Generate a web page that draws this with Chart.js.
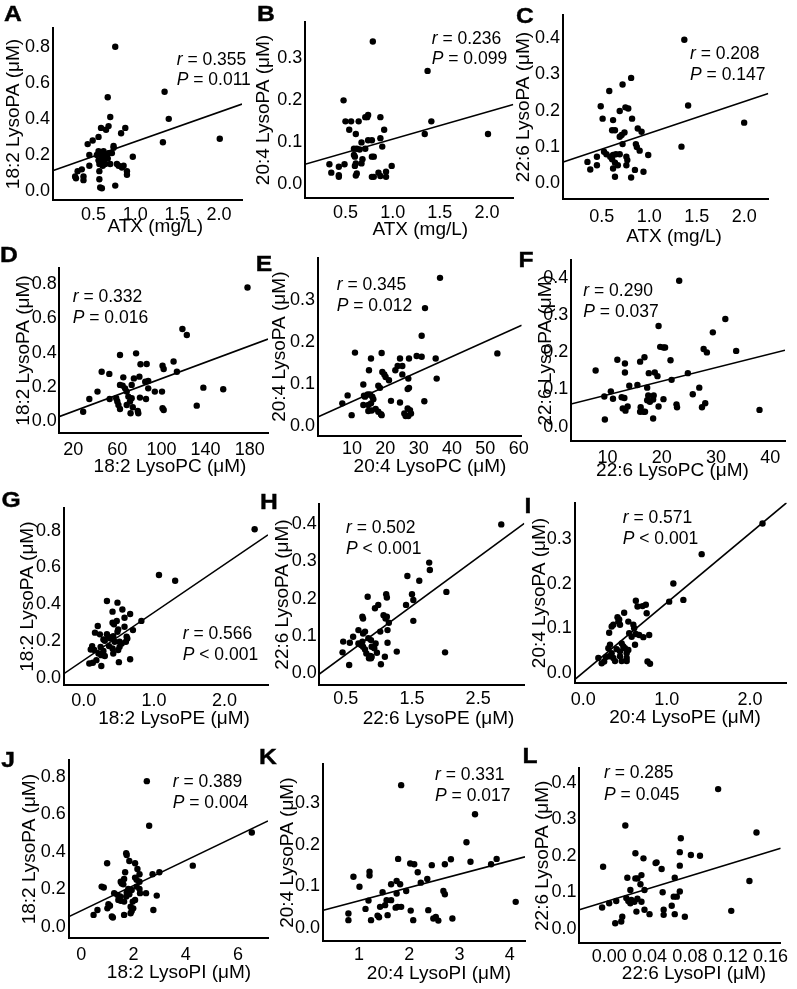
<!DOCTYPE html>
<html><head><meta charset="utf-8">
<script src="https://cdn.jsdelivr.net/npm/chart.js@4.4.1/dist/chart.umd.min.js"></script>
<style>
html,body{margin:0;padding:0;background:#fff;}
#wrap{position:relative;width:797px;height:989px;overflow:hidden;background:#fff;font-family:"Liberation Sans",Arial,sans-serif;color:#000;}
canvas{position:absolute;}
.lab{position:absolute;white-space:nowrap;line-height:1;}
.letter{font-weight:bold;font-size:22px;transform:translateX(-50%) scaleX(1.12);-webkit-text-stroke:0.4px #000;}
.stat{font-size:17.5px;}
.xt{font-size:19px;transform:translateX(-50%);}
</style></head><body><div id="wrap"></div>
<script>
// ---------- DATA ----------
const ptsA = [[0.76,0.80],[1.35,0.55],[1.40,0.40],[1.33,0.27],[2.01,0.29],[0.67,0.52],[0.70,0.41],[0.59,0.35],[0.68,0.36],[0.65,0.34],[0.88,0.35],[0.83,0.32],[0.56,0.30],[0.49,0.28],[0.43,0.26],[0.74,0.25],[0.74,0.24],[0.56,0.22],[0.62,0.22],[0.45,0.20],[0.54,0.20],[0.58,0.21],[0.60,0.19],[0.64,0.20],[0.68,0.21],[0.72,0.21],[0.56,0.17],[0.62,0.17],[0.67,0.18],[0.97,0.19],[0.57,0.15],[0.64,0.15],[0.61,0.14],[0.70,0.15],[0.78,0.15],[0.86,0.14],[0.80,0.14],[0.84,0.13],[0.90,0.11],[0.90,0.09],[0.45,0.14],[0.36,0.12],[0.31,0.11],[0.38,0.08],[0.28,0.08],[0.57,0.11],[0.57,0.065],[0.58,0.02],[0.60,0.015],[0.76,0.03],[0.38,0.06],[0.29,0.07]];
const ptsB = [[0.79,0.34],[1.37,0.27],[0.48,0.20],[0.50,0.15],[0.56,0.15],[0.64,0.15],[0.71,0.16],[0.73,0.16],[0.74,0.165],[0.87,0.16],[0.54,0.13],[0.61,0.12],[0.91,0.13],[1.41,0.15],[1.34,0.12],[2.01,0.12],[0.74,0.105],[0.78,0.105],[0.87,0.11],[0.67,0.10],[0.89,0.09],[0.59,0.085],[0.62,0.085],[0.65,0.083],[0.71,0.085],[0.78,0.066],[0.80,0.066],[0.59,0.07],[0.60,0.066],[0.68,0.06],[0.61,0.05],[0.60,0.044],[0.67,0.05],[0.99,0.044],[0.33,0.048],[0.49,0.048],[0.43,0.042],[0.35,0.028],[0.43,0.022],[0.43,0.018],[0.62,0.026],[0.61,0.021],[0.85,0.028],[0.87,0.02],[0.78,0.018],[0.80,0.018],[0.93,0.03],[0.93,0.018]];
const ptsC = [[1.37,0.395],[1.41,0.214],[1.34,0.101],[2.00,0.167],[0.81,0.29],[0.72,0.272],[0.58,0.254],[0.49,0.212],[0.51,0.178],[0.62,0.174],[0.69,0.199],[0.75,0.209],[0.78,0.206],[0.82,0.178],[0.61,0.146],[0.64,0.146],[0.69,0.128],[0.71,0.133],[0.74,0.14],[0.72,0.108],[0.88,0.151],[0.92,0.142],[0.86,0.108],[0.87,0.10],[0.90,0.09],[0.99,0.078],[0.525,0.087],[0.55,0.08],[0.59,0.073],[0.62,0.078],[0.65,0.08],[0.69,0.08],[0.61,0.066],[0.64,0.057],[0.67,0.05],[0.62,0.041],[0.76,0.073],[0.77,0.064],[0.76,0.05],[0.45,0.073],[0.45,0.05],[0.35,0.059],[0.38,0.038],[0.64,0.018],[0.81,0.016],[0.85,0.037],[0.94,0.032]];
const ptsD = [[178,0.78],[119,0.538],[123,0.503],[62.4,0.386],[77,0.396],[45.8,0.289],[52.7,0.276],[65.4,0.256],[75,0.25],[81,0.332],[86.6,0.334],[101,0.324],[102,0.305],[111,0.348],[114,0.289],[80,0.26],[62.4,0.212],[64.8,0.208],[73,0.212],[85.3,0.23],[88,0.235],[88,0.192],[94,0.173],[100.5,0.173],[138,0.196],[156,0.187],[132,0.091],[42,0.173],[34.6,0.13],[29,0.056],[53,0.13],[59,0.134],[68.5,0.173],[70,0.144],[71.5,0.115],[73,0.134],[80.5,0.138],[86,0.13],[60,0.115],[61,0.095],[62.4,0.072],[68.5,0.095],[74,0.082],[72,0.047],[78.5,0.06],[79,0.047],[101,0.076],[102,0.066],[67,0.192]];
const ptsE = [[36.4,0.352],[31.9,0.28],[30.9,0.214],[10.9,0.174],[18.9,0.173],[15.7,0.16],[15.1,0.132],[19.1,0.128],[19.7,0.122],[20.1,0.116],[21.1,0.108],[23,0.132],[23.7,0.142],[24.4,0.16],[25.1,0.142],[25.1,0.122],[27.1,0.16],[29.4,0.166],[30.9,0.164],[35.1,0.16],[35.4,0.112],[26.9,0.112],[27.1,0.09],[26.7,0.087],[17.9,0.095],[18.4,0.09],[13.4,0.098],[13.6,0.071],[13.9,0.069],[14.7,0.074],[15.4,0.074],[16.1,0.069],[16.4,0.063],[15.7,0.053],[14.9,0.049],[13.4,0.049],[14.9,0.035],[15.9,0.036],[17.1,0.04],[17.9,0.033],[18.7,0.027],[18.9,0.025],[21.7,0.059],[24.4,0.055],[31.7,0.058],[8.7,0.072],[7.1,0.053],[9.9,0.025],[25.7,0.029],[26.1,0.023],[26.7,0.041],[27.4,0.037],[27.7,0.029],[26.9,0.023],[53.6,0.172]];
const ptsF = [[23.2,0.393],[31.7,0.29],[29.4,0.254],[19.4,0.271],[33.7,0.204],[27.7,0.209],[28.3,0.2],[19.7,0.215],[20.3,0.213],[20.6,0.213],[16.8,0.187],[16.0,0.175],[11.8,0.18],[13.2,0.17],[13.2,0.146],[7.8,0.151],[17.6,0.144],[18.7,0.146],[19.2,0.136],[21.6,0.179],[21.8,0.126],[24.8,0.144],[14.0,0.11],[15.5,0.112],[17.3,0.105],[9.4,0.081],[10.6,0.095],[11.0,0.075],[12.6,0.079],[13.1,0.077],[12.8,0.049],[13.7,0.054],[13.3,0.043],[17.5,0.084],[17.3,0.071],[17.8,0.067],[18.4,0.073],[18.5,0.084],[16.1,0.052],[16.0,0.04],[16.6,0.04],[16.9,0.04],[19.4,0.054],[20.3,0.074],[22.7,0.06],[22.8,0.052],[25.7,0.087],[26.9,0.105],[27.4,0.052],[28.0,0.063],[9.5,0.019],[18.4,0.022],[38.0,0.045]];
const ptsG = [[2.43,0.807],[1.07,0.559],[1.30,0.528],[0.33,0.418],[0.48,0.409],[0.41,0.36],[0.55,0.372],[0.58,0.327],[0.66,0.347],[0.82,0.31],[0.41,0.30],[0.43,0.292],[0.47,0.31],[0.20,0.282],[0.49,0.264],[0.58,0.278],[0.70,0.26],[0.16,0.246],[0.23,0.237],[0.33,0.238],[0.35,0.224],[0.42,0.227],[0.48,0.251],[0.61,0.224],[0.62,0.215],[0.28,0.209],[0.30,0.202],[0.38,0.215],[0.44,0.197],[0.51,0.197],[0.54,0.187],[0.51,0.169],[0.49,0.152],[0.60,0.197],[0.12,0.173],[0.10,0.155],[0.15,0.152],[0.24,0.169],[0.28,0.147],[0.21,0.133],[0.25,0.124],[0.30,0.119],[0.36,0.173],[0.41,0.16],[0.42,0.133],[0.18,0.097],[0.13,0.083],[0.08,0.079],[0.25,0.065],[0.50,0.086],[0.66,0.102]];
const ptsH = [[2.85,0.40],[1.76,0.297],[1.77,0.277],[1.43,0.261],[1.61,0.248],[2.02,0.218],[1.50,0.212],[1.52,0.196],[1.41,0.183],[1.11,0.212],[1.12,0.203],[1.52,0.14],[0.83,0.205],[0.99,0.183],[0.94,0.174],[1.07,0.155],[1.10,0.146],[1.15,0.135],[1.12,0.151],[0.75,0.151],[0.76,0.146],[0.69,0.115],[0.76,0.106],[0.79,0.111],[0.61,0.097],[0.46,0.084],[0.56,0.081],[0.75,0.084],[0.84,0.093],[0.88,0.088],[1.02,0.111],[1.13,0.115],[1.13,0.081],[0.69,0.079],[0.73,0.075],[0.76,0.07],[0.79,0.063],[0.81,0.052],[0.87,0.045],[0.89,0.07],[0.93,0.066],[0.95,0.079],[0.97,0.054],[0.89,0.043],[0.85,0.039],[0.88,0.039],[0.45,0.055],[0.55,0.021],[1.03,0.023],[1.09,0.043],[1.27,0.057],[2.0,0.055]];
const ptsI = [[2.15,0.336],[1.42,0.267],[1.08,0.201],[1.2,0.164],[1.03,0.16],[0.65,0.149],[0.71,0.15],[0.75,0.153],[0.63,0.162],[0.76,0.134],[0.79,0.085],[0.49,0.135],[0.43,0.12],[0.41,0.125],[0.34,0.104],[0.36,0.108],[0.31,0.09],[0.42,0.115],[0.44,0.108],[0.54,0.115],[0.6,0.108],[0.61,0.1],[0.55,0.089],[0.58,0.081],[0.63,0.087],[0.67,0.085],[0.72,0.08],[0.62,0.063],[0.46,0.066],[0.48,0.059],[0.32,0.063],[0.3,0.055],[0.4,0.053],[0.44,0.048],[0.5,0.055],[0.54,0.051],[0.52,0.044],[0.34,0.044],[0.31,0.037],[0.27,0.035],[0.36,0.033],[0.38,0.026],[0.44,0.037],[0.46,0.026],[0.52,0.033],[0.52,0.026],[0.18,0.033],[0.22,0.021],[0.25,0.025],[0.77,0.025],[0.8,0.02]];
const ptsJ = [[2.51,0.777],[2.6,0.539],[6.53,0.503],[4.27,0.326],[1.72,0.392],[1.74,0.383],[1.84,0.351],[0.99,0.339],[2.06,0.339],[2.15,0.308],[2.23,0.28],[2.73,0.28],[2.99,0.291],[1.68,0.291],[0.78,0.214],[0.86,0.209],[1.51,0.24],[1.64,0.255],[1.55,0.231],[1.61,0.226],[2.06,0.262],[2.12,0.25],[2.23,0.24],[1.8,0.201],[1.93,0.196],[2.12,0.214],[2.23,0.201],[2.25,0.179],[2.48,0.179],[2.89,0.166],[1.26,0.179],[1.38,0.17],[1.49,0.161],[1.74,0.184],[1.84,0.173],[1.42,0.143],[1.51,0.138],[1.64,0.134],[1.72,0.161],[1.97,0.134],[2.06,0.143],[1.89,0.107],[1.99,0.098],[1.93,0.084],[1.89,0.072],[1.04,0.12],[1.0,0.098],[1.1,0.112],[0.62,0.089],[0.47,0.063],[1.17,0.054],[1.21,0.049],[1.64,0.063],[2.76,0.089]];
const ptsK = [[1.84,0.343],[3.31,0.273],[3.14,0.206],[3.22,0.159],[2.83,0.165],[2.71,0.153],[2.45,0.151],[2.02,0.155],[2.1,0.153],[1.78,0.166],[3.63,0.153],[3.74,0.166],[2.17,0.134],[2.36,0.118],[2.23,0.109],[0.89,0.123],[1.21,0.135],[1.21,0.126],[1.01,0.099],[1.64,0.105],[1.75,0.113],[1.82,0.105],[1.94,0.089],[1.47,0.086],[1.75,0.083],[1.19,0.066],[1.55,0.067],[1.64,0.067],[2.68,0.089],[2.71,0.081],[1.42,0.051],[1.52,0.055],[1.13,0.046],[1.73,0.049],[1.77,0.051],[1.84,0.051],[2.03,0.042],[2.38,0.043],[0.79,0.035],[0.79,0.019],[1.24,0.019],[1.37,0.03],[1.4,0.026],[1.57,0.031],[2.08,0.019],[2.48,0.023],[2.53,0.027],[2.58,0.018],[2.86,0.023],[4.12,0.063]];
const ptsL = [[0.108,0.383],[0.146,0.264],[0.016,0.283],[-0.006,0.17],[0.139,0.131],[0.121,0.049],[0.071,0.248],[0.07,0.21],[0.081,0.202],[0.09,0.2],[0.07,0.173],[0.026,0.207],[0.034,0.193],[0.046,0.18],[0.047,0.182],[0.052,0.164],[0.018,0.14],[0.026,0.138],[0.028,0.138],[0.032,0.147],[0.031,0.122],[0.035,0.106],[0.021,0.106],[0.065,0.14],[0.053,0.1],[0.07,0.102],[0.064,0.088],[0.067,0.088],[0.062,0.063],[0.065,0.04],[0.075,0.033],[0.054,0.052],[0.054,0.038],[0.04,0.04],[0.032,0.074],[0.035,0.052],[0.027,0.047],[0.017,0.084],[0.019,0.076],[0.021,0.07],[0.022,0.079],[0.025,0.074],[0.028,0.082],[0.007,0.076],[0.0,0.07],[-0.007,0.058],[0.013,0.033],[0.012,0.02],[0.006,0.015]];

// regression line end points (value units)
const fitA = [[0.019,0.113],[2.276,0.482]];
const fitB = [[0.0715,0.048],[2.278,0.19]];
const fitC = [[0.096,0.059],[2.254,0.247]];
const fitD = [[7.1,0.027],[196.6,0.479]];
const fitE = [[-0.1,0.021],[60.9,0.239]];
const fitF = [[3.26,0.061],[42.7,0.206]];
const fitG = [[-0.276,0.025],[2.62,0.777]];
const fitH = [[0.094,-0.004],[3.198,0.403]];
const fitI = [[-0.1,-0.015],[2.44,0.383]];
const fitJ = [[-0.47,0.054],[7.15,0.565]];
const fitK = [[0.29,0.043],[4.305,0.171]];
const fitL = [[-0.0296,0.052],[0.17,0.221]];

// tick labels
const yTicks08 = ['0.0','0.2','0.4','0.6','0.8'];
const yTicks03 = ['0.0','0.1','0.2','0.3'];
const yTicks04 = ['0.0','0.1','0.2','0.3','0.4'];
const xTicksATX = ['0.5','1.0','1.5','2.0'];
const xTicksD = ['20','60','100','140','180'];
const xTicksE = ['10','20','30','40','50','60'];
const xTicksF = ['10','20','30','40'];
const xTicksG = ['0.0','1.0','2.0'];
const xTicksH = ['0.5','1.5','2.5'];
const xTicksI = ['0.0','1.0','2.0'];
const xTicksJ = ['0','2','4','6'];
const xTicksK = ['1','2','3','4'];
const xTicksL = ['0.00','0.04','0.08','0.12','0.16'];

// statistics and titles
const panelLetters = ['A','B','C','D','E','F','G','H','I','J','K','L'];
const rValues = ['0.355','0.236','0.208','0.332','0.345','0.290','0.566','0.502','0.571','0.389','0.331','0.285'];
const pValues = ['= 0.011','= 0.099','= 0.147','= 0.016','= 0.012','= 0.037','< 0.001','< 0.001','< 0.001','= 0.004','= 0.017','= 0.045'];
const xTitles = ['ATX (mg/L)','ATX (mg/L)','ATX (mg/L)','18:2 LysoPC (μM)','20:4 LysoPC (μM)','22:6 LysoPC (μM)','18:2 LysoPE (μM)','22:6 LysoPE (μM)','20:4 LysoPE (μM)','18:2 LysoPI (μM)','20:4 LysoPI (μM)','22:6 LysoPI (μM)'];
const yTitles = ['18:2 LysoPA (μM)','20:4 LysoPA (μM)','22:6 LysoPA (μM)','18:2 LysoPA (μM)','20:4 LysoPA (μM)','22:6 LysoPA (μM)','18:2 LysoPA (μM)','22:6 LysoPA (μM)','20:4 LysoPA (μM)','18:2 LysoPA (μM)','20:4 LysoPA (μM)','22:6 LysoPA (μM)'];

// ---------- LAYOUT ----------
const series = [
 {pts:ptsA, fit:fitA, xt:xTicksATX, yt:yTicks08},
 {pts:ptsB, fit:fitB, xt:xTicksATX, yt:yTicks03},
 {pts:ptsC, fit:fitC, xt:xTicksATX, yt:yTicks04},
 {pts:ptsD, fit:fitD, xt:xTicksD, yt:yTicks08},
 {pts:ptsE, fit:fitE, xt:xTicksE, yt:yTicks03},
 {pts:ptsF, fit:fitF, xt:xTicksF, yt:yTicks04},
 {pts:ptsG, fit:fitG, xt:xTicksG, yt:yTicks08},
 {pts:ptsH, fit:fitH, xt:xTicksH, yt:yTicks04},
 {pts:ptsI, fit:fitI, xt:xTicksI, yt:yTicks03},
 {pts:ptsJ, fit:fitJ, xt:xTicksJ, yt:yTicks08},
 {pts:ptsK, fit:fitK, xt:xTicksK, yt:yTicks03},
 {pts:ptsL, fit:fitL, xt:xTicksL, yt:yTicks04}
];
const geom = [
 {L:53.3,T:28,R:242,B:200, x:[0.019,2.276], y:[-0.05,0.904], yGap:3.3, yTO:40, xTO:15, xTitle:[155.3,225.7], letter:[12.5,14], stat:[176.7,59.3,80]},
 {L:305,T:21.7,R:513.3,B:198.3, x:[0.0715,2.278], y:[-0.033,0.387], yGap:2.7, yTO:42, xTO:15, xTitle:[420.3,228.3], letter:[266,13.5], stat:[431.7,38.3,59]},
 {L:563.3,T:15,R:768.3,B:199, x:[0.096,2.254], y:[-0.043,0.463], yGap:3.3, yTO:40, xTO:17.7, xTitle:[674,235], letter:[525,15.5], stat:[690,53.3,75]},
 {L:59,T:267.7,R:268,B:433.3, x:[7.1,196.6], y:[-0.07,0.895], yGap:2.3, yTO:35.7, xTO:16.7, xTitle:[170,465], letter:[8.5,255], stat:[72.7,296.7,317.7]},
 {L:318.3,T:257.7,R:521.7,B:435.7, x:[-0.1,60.9], y:[-0.024,0.40], yGap:3.3, yTO:39, xTO:13.3, xTitle:[430,465], letter:[264,263.5], stat:[336.7,284.3,306]},
 {L:571,T:260,R:785,B:440.7, x:[3.26,42.7], y:[-0.038,0.449], yGap:2.7, yTO:26, xTO:17.7, xTitle:[672.5,469], letter:[526,260], stat:[583.3,291,311.7]},
 {L:64.3,T:508.3,R:268,B:685, x:[-0.276,2.62], y:[-0.038,0.921], yGap:3.3, yTO:37, xTO:15.7, xTitle:[174,717.3], letter:[11,500], stat:[182.7,634,655]},
 {L:319,T:504,R:524.3,B:685, x:[0.094,3.198], y:[-0.033,0.455], yGap:2.3, yTO:36.7, xTO:14.3, xTitle:[438.5,717.7], letter:[269,501.5], stat:[346,527.3,548.3]},
 {L:575,T:502.7,R:786.7,B:683.3, x:[-0.1,2.44], y:[-0.024,0.383], yGap:3.3, yTO:35.7, xTO:16.7, xTitle:[685,716.7], letter:[528,506], stat:[622.7,517.3,538.3]},
 {L:69,T:760,R:268,B:938.3, x:[-0.47,7.15], y:[-0.062,0.89], yGap:3.3, yTO:40, xTO:16.7, xTitle:[179,971.7], letter:[8,760], stat:[172.7,781.7,802.3]},
 {L:323.3,T:764.3,R:525,B:941, x:[0.29,4.305], y:[-0.031,0.393], yGap:3.3, yTO:35.7, xTO:14, xTitle:[439,972.3], letter:[267.5,757], stat:[435,774.3,795.7]},
 {L:579.3,T:768.3,R:780.7,B:943.3, x:[-0.0296,0.17], y:[-0.04,0.44], yGap:2.7, yTO:36.7, xTO:13.3, xTitle:[694,972.3], letter:[530,756], stat:[604,772.3,794.3]}
];

const FONT = '"Liberation Sans", Arial, sans-serif';
Chart.defaults.font.family = FONT;
Chart.defaults.color = '#000';
const TS = 18, YT = 19;
const wrap = document.getElementById('wrap');

function addLabel(cls, html, left, top) {
  const d = document.createElement('div');
  d.className = 'lab ' + cls;
  d.innerHTML = html;
  d.style.left = left + 'px';
  d.style.top = top + 'px';
  wrap.appendChild(d);
}

series.forEach((d, i) => {
  const g = geom[i];
  const cl = Math.round(g.L - g.yTO - YT / 2);
  const ct = Math.round(g.T - 10);
  const Wy = g.L - cl, padTop = g.T - ct;
  const cw = Math.ceil(g.R - cl + 18);
  const padRight = cw - (g.R - cl);
  const ch = Math.ceil(g.B - ct + g.xTO + 16);
  const Hx = ch - (g.B - ct);
  const cv = document.createElement('canvas');
  cv.width = cw; cv.height = ch;
  cv.style.left = cl + 'px'; cv.style.top = ct + 'px';
  cv.style.width = cw + 'px'; cv.style.height = ch + 'px';
  wrap.appendChild(cv);
  const fixBox = (s) => {
    if (s.isHorizontal()) s.height = Hx; else s.width = Wy;
    s.paddingLeft = 0; s.paddingRight = 0; s.paddingTop = 0; s.paddingBottom = 0;
  };
  new Chart(cv, {
    type: 'scatter',
    data: { datasets: [
      { data: d.pts.map(([x, y]) => ({x, y})), pointRadius: 3.2, pointHoverRadius: 3.2,
        backgroundColor: '#000', borderColor: '#000', pointBorderWidth: 0, borderWidth: 0 },
      { data: d.fit.map(([x, y]) => ({x, y})), showLine: true, pointRadius: 0, pointHoverRadius: 0,
        borderColor: '#000', borderWidth: 1.6, fill: false }
    ]},
    options: {
      responsive: false, animation: false, devicePixelRatio: 1, events: [],
      layout: { padding: { left: 0, top: padTop, right: padRight, bottom: 0 } },
      plugins: { legend: { display: false }, tooltip: { enabled: false } },
      scales: {
        x: {
          type: 'linear', position: 'bottom', min: g.x[0], max: g.x[1],
          grid: { display: false, drawTicks: false },
          border: { display: true, color: '#000', width: 2 },
          ticks: { padding: g.xTO - TS / 2, color: '#000', font: { size: TS, lineHeight: 1 },
                   autoSkip: false, maxRotation: 0, minRotation: 0, callback: (v, idx) => d.xt[idx] },
          afterBuildTicks: (s) => { s.ticks = d.xt.map(t => ({ value: parseFloat(t) })); },
          afterFit: fixBox,
          title: { display: false }
        },
        y: {
          type: 'linear', position: 'left', min: g.y[0], max: g.y[1],
          grid: { display: false, drawTicks: false },
          border: { display: true, color: '#000', width: 2 },
          ticks: { padding: g.yGap, color: '#000', font: { size: TS, lineHeight: 1 },
                   autoSkip: false, callback: (v, idx) => d.yt[idx] },
          afterBuildTicks: (s) => { s.ticks = d.yt.map(t => ({ value: parseFloat(t) })); },
          afterFit: fixBox,
          title: { display: true, text: yTitles[i], color: '#000', font: { size: YT, lineHeight: 1 }, padding: 0 }
        }
      }
    }
  });
  addLabel('letter', panelLetters[i], g.letter[0], g.letter[1] - 0.49 * 22);
  addLabel('stat', '<i>r</i> = ' + rValues[i], g.stat[0], g.stat[1] - 0.49 * 17.5);
  addLabel('stat', '<i>P</i> ' + pValues[i].replace('<', '&lt;'), g.stat[0], g.stat[2] - 0.49 * 17.5);
  addLabel('xt', xTitles[i], g.xTitle[0], g.xTitle[1] - 0.49 * 19);
});
</script></body></html>
